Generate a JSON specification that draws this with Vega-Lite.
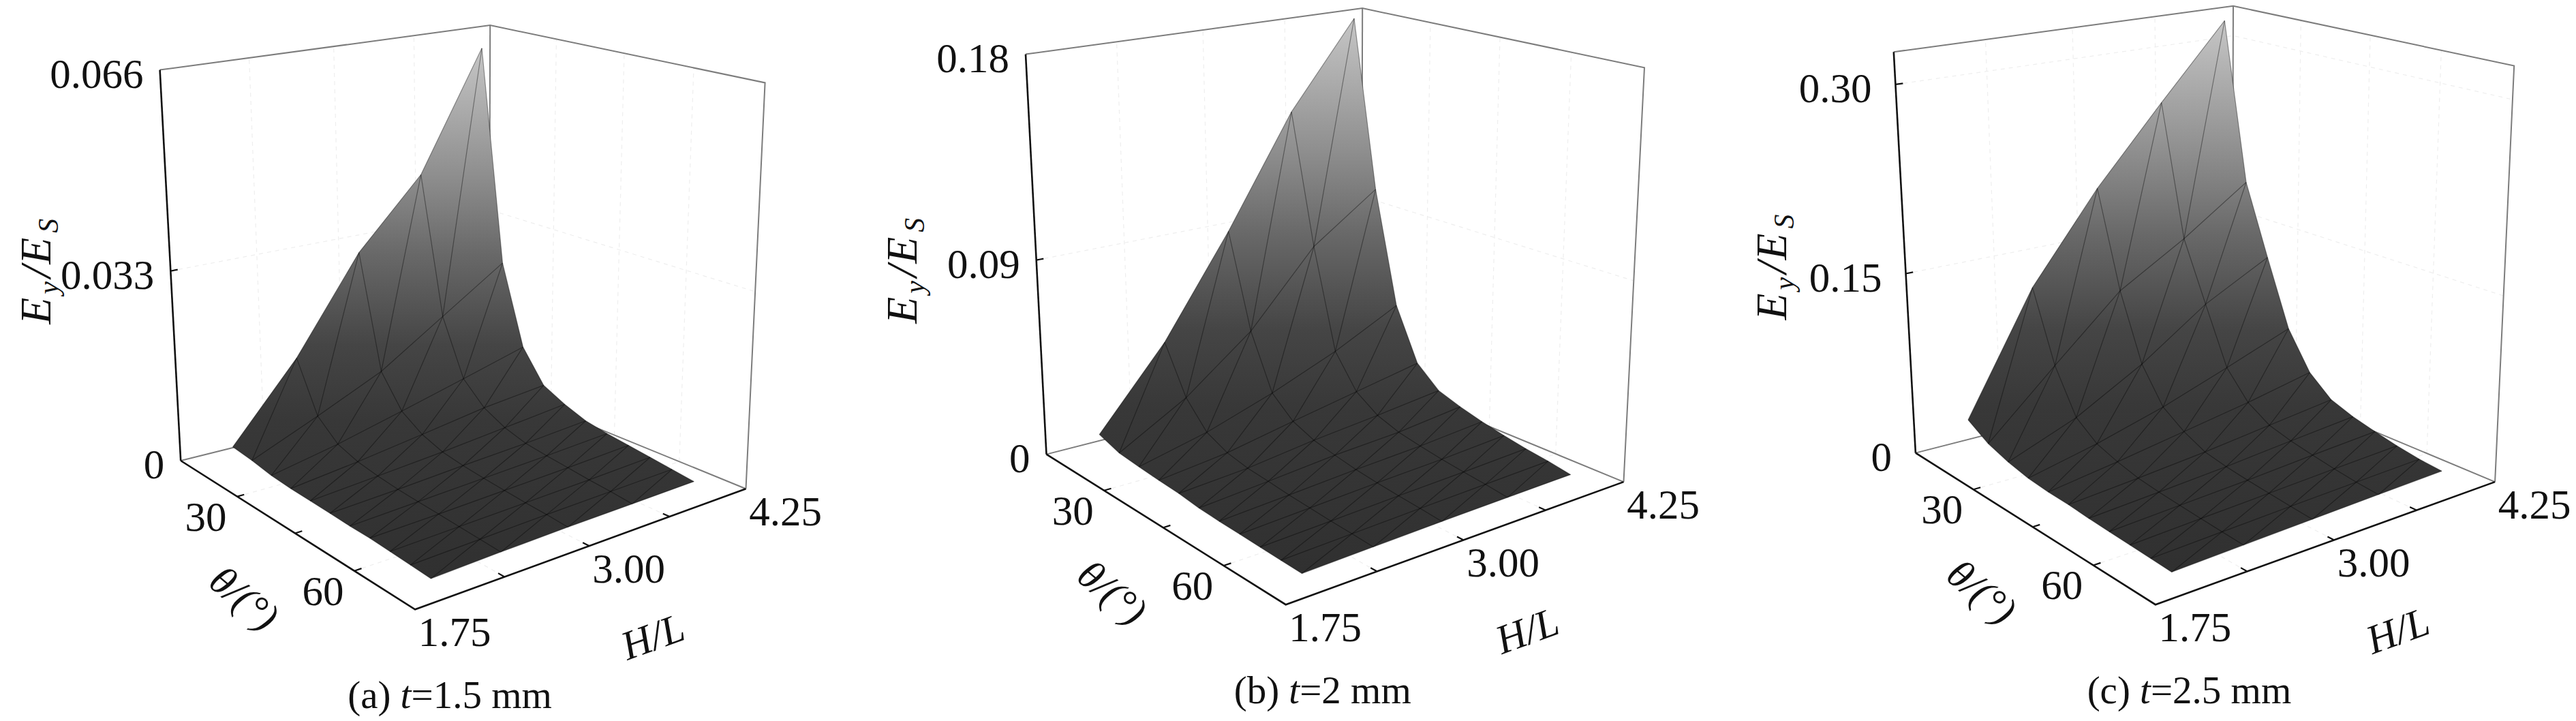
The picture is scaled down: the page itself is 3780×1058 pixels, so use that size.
{"$schema":"https://vega.github.io/schema/vega-lite/v6.json","autosize":{"type":"fit","contains":"padding"},"padding":0,"width":3780,"height":1058,"background":"white","view":{"stroke":null},
"params":[{"name":"cube","value":{"a":{"zmax":0.066,"Lx":265.2,"Ly":676,"Fx":609.1,"Fy":894.3,"Rx":1094.5,"Ry":717.2,"Bx":717.6,"By":563.4,"LTx":234.6,"LTy":102.6,"FTx":610,"FTy":239.5,"RTx":1122.6,"RTy":121.4,"BTx":719.2,"BTy":37.1,"yd":-24,"ytdy":78,"capdx":-21.5},"b":{"zmax":0.18,"Lx":1535.5,"Ly":666.6,"Fx":1886.7,"Fy":887.2,"Rx":2382.5,"Ry":707.1,"Bx":1997.6,"By":548.5,"LTx":1505,"LTy":79.6,"FTx":1890.7,"FTy":219.3,"RTx":2413,"RTy":99.2,"BTx":1999.2,"BTy":12.1,"yd":-24,"ytdy":93,"capdx":4.5},"c":{"zmax":0.325,"Lx":2810.9,"Ly":664.6,"Fx":3162.9,"Fy":887.2,"Rx":3661.1,"Ry":707.1,"Bx":3275.4,"By":545.8,"LTx":2778.8,"LTy":76.2,"FTx":3162.9,"FTy":216.6,"RTx":3689.2,"RTy":96.5,"BTx":3277,"BTy":8.8,"yd":-35,"ytdy":68,"capdx":-23}}}],
"data":{"values":[
{"set":"s","panel":"a","hl":2,"theta":20,"ey":0.003},{"set":"s","panel":"a","hl":2.5,"theta":20,"ey":0.0159},{"set":"s","panel":"a","hl":3,"theta":20,"ey":0.032},{"set":"s","panel":"a","hl":3.5,"theta":20,"ey":0.0435},{"set":"s","panel":"a","hl":4,"theta":20,"ey":0.0636},
{"set":"s","panel":"a","hl":2,"theta":25,"ey":0.0026},{"set":"s","panel":"a","hl":2.5,"theta":25,"ey":0.0074},{"set":"s","panel":"a","hl":3,"theta":25,"ey":0.0125},{"set":"s","panel":"a","hl":3.5,"theta":25,"ey":0.0197},{"set":"s","panel":"a","hl":4,"theta":25,"ey":0.0269},
{"set":"s","panel":"a","hl":2,"theta":30,"ey":0.002},{"set":"s","panel":"a","hl":2.5,"theta":30,"ey":0.0043},{"set":"s","panel":"a","hl":3,"theta":30,"ey":0.0071},{"set":"s","panel":"a","hl":3.5,"theta":30,"ey":0.01},{"set":"s","panel":"a","hl":4,"theta":30,"ey":0.013},
{"set":"s","panel":"a","hl":2,"theta":35,"ey":0.00175},{"set":"s","panel":"a","hl":2.5,"theta":35,"ey":0.0031},{"set":"s","panel":"a","hl":3,"theta":35,"ey":0.0047},{"set":"s","panel":"a","hl":3.5,"theta":35,"ey":0.0064},{"set":"s","panel":"a","hl":4,"theta":35,"ey":0.0075},
{"set":"s","panel":"a","hl":2,"theta":40,"ey":0.00165},{"set":"s","panel":"a","hl":2.5,"theta":40,"ey":0.0025},{"set":"s","panel":"a","hl":3,"theta":40,"ey":0.0034},{"set":"s","panel":"a","hl":3.5,"theta":40,"ey":0.0045},{"set":"s","panel":"a","hl":4,"theta":40,"ey":0.0056},
{"set":"s","panel":"a","hl":2,"theta":45,"ey":0.00155},{"set":"s","panel":"a","hl":2.5,"theta":45,"ey":0.0021},{"set":"s","panel":"a","hl":3,"theta":45,"ey":0.0028},{"set":"s","panel":"a","hl":3.5,"theta":45,"ey":0.0034},{"set":"s","panel":"a","hl":4,"theta":45,"ey":0.0042},
{"set":"s","panel":"a","hl":2,"theta":50,"ey":0.0014},{"set":"s","panel":"a","hl":2.5,"theta":50,"ey":0.0019},{"set":"s","panel":"a","hl":3,"theta":50,"ey":0.0024},{"set":"s","panel":"a","hl":3.5,"theta":50,"ey":0.0029},{"set":"s","panel":"a","hl":4,"theta":50,"ey":0.0035},
{"set":"s","panel":"a","hl":2,"theta":55,"ey":0.0014},{"set":"s","panel":"a","hl":2.5,"theta":55,"ey":0.0017},{"set":"s","panel":"a","hl":3,"theta":55,"ey":0.0021},{"set":"s","panel":"a","hl":3.5,"theta":55,"ey":0.0025},{"set":"s","panel":"a","hl":4,"theta":55,"ey":0.003},
{"set":"s","panel":"a","hl":2,"theta":60,"ey":0.0012},{"set":"s","panel":"a","hl":2.5,"theta":60,"ey":0.0015},{"set":"s","panel":"a","hl":3,"theta":60,"ey":0.0018},{"set":"s","panel":"a","hl":3.5,"theta":60,"ey":0.0021},{"set":"s","panel":"a","hl":4,"theta":60,"ey":0.0025},
{"set":"s","panel":"a","hl":2,"theta":65,"ey":0.001},{"set":"s","panel":"a","hl":2.5,"theta":65,"ey":0.0013},{"set":"s","panel":"a","hl":3,"theta":65,"ey":0.0016},{"set":"s","panel":"a","hl":3.5,"theta":65,"ey":0.0018},{"set":"s","panel":"a","hl":4,"theta":65,"ey":0.002},
{"set":"s","panel":"a","hl":2,"theta":70,"ey":0.0008},{"set":"s","panel":"a","hl":2.5,"theta":70,"ey":0.0011},{"set":"s","panel":"a","hl":3,"theta":70,"ey":0.0013},{"set":"s","panel":"a","hl":3.5,"theta":70,"ey":0.0014},{"set":"s","panel":"a","hl":4,"theta":70,"ey":0.0015},

{"set":"s","panel":"b","hl":2,"theta":20,"ey":0.0107},{"set":"s","panel":"b","hl":2.5,"theta":20,"ey":0.0464},{"set":"s","panel":"b","hl":3,"theta":20,"ey":0.0916},{"set":"s","panel":"b","hl":3.5,"theta":20,"ey":0.1413},{"set":"s","panel":"b","hl":4,"theta":20,"ey":0.1795},
{"set":"s","panel":"b","hl":2,"theta":25,"ey":0.0074},{"set":"s","panel":"b","hl":2.5,"theta":25,"ey":0.025},{"set":"s","panel":"b","hl":3,"theta":25,"ey":0.0488},{"set":"s","panel":"b","hl":3.5,"theta":25,"ey":0.0819},{"set":"s","panel":"b","hl":4,"theta":25,"ey":0.1028},
{"set":"s","panel":"b","hl":2,"theta":30,"ey":0.0064},{"set":"s","panel":"b","hl":2.5,"theta":30,"ey":0.0137},{"set":"s","panel":"b","hl":3,"theta":30,"ey":0.0239},{"set":"s","panel":"b","hl":3.5,"theta":30,"ey":0.0359},{"set":"s","panel":"b","hl":4,"theta":30,"ey":0.0506},
{"set":"s","panel":"b","hl":2,"theta":35,"ey":0.0056},{"set":"s","panel":"b","hl":2.5,"theta":35,"ey":0.0092},{"set":"s","panel":"b","hl":3,"theta":35,"ey":0.0152},{"set":"s","panel":"b","hl":3.5,"theta":35,"ey":0.0209},{"set":"s","panel":"b","hl":4,"theta":35,"ey":0.0266},
{"set":"s","panel":"b","hl":2,"theta":40,"ey":0.005},{"set":"s","panel":"b","hl":2.5,"theta":40,"ey":0.0072},{"set":"s","panel":"b","hl":3,"theta":40,"ey":0.0111},{"set":"s","panel":"b","hl":3.5,"theta":40,"ey":0.0141},{"set":"s","panel":"b","hl":4,"theta":40,"ey":0.0175},
{"set":"s","panel":"b","hl":2,"theta":45,"ey":0.0038},{"set":"s","panel":"b","hl":2.5,"theta":45,"ey":0.0063},{"set":"s","panel":"b","hl":3,"theta":45,"ey":0.009},{"set":"s","panel":"b","hl":3.5,"theta":45,"ey":0.0107},{"set":"s","panel":"b","hl":4,"theta":45,"ey":0.014},
{"set":"s","panel":"b","hl":2,"theta":50,"ey":0.0033},{"set":"s","panel":"b","hl":2.5,"theta":50,"ey":0.0052},{"set":"s","panel":"b","hl":3,"theta":50,"ey":0.0072},{"set":"s","panel":"b","hl":3.5,"theta":50,"ey":0.0088},{"set":"s","panel":"b","hl":4,"theta":50,"ey":0.0112},
{"set":"s","panel":"b","hl":2,"theta":55,"ey":0.003},{"set":"s","panel":"b","hl":2.5,"theta":55,"ey":0.0045},{"set":"s","panel":"b","hl":3,"theta":55,"ey":0.006},{"set":"s","panel":"b","hl":3.5,"theta":55,"ey":0.0072},{"set":"s","panel":"b","hl":4,"theta":55,"ey":0.009},
{"set":"s","panel":"b","hl":2,"theta":60,"ey":0.0027},{"set":"s","panel":"b","hl":2.5,"theta":60,"ey":0.0038},{"set":"s","panel":"b","hl":3,"theta":60,"ey":0.005},{"set":"s","panel":"b","hl":3.5,"theta":60,"ey":0.006},{"set":"s","panel":"b","hl":4,"theta":60,"ey":0.0072},
{"set":"s","panel":"b","hl":2,"theta":65,"ey":0.0024},{"set":"s","panel":"b","hl":2.5,"theta":65,"ey":0.0033},{"set":"s","panel":"b","hl":3,"theta":65,"ey":0.0042},{"set":"s","panel":"b","hl":3.5,"theta":65,"ey":0.005},{"set":"s","panel":"b","hl":4,"theta":65,"ey":0.0058},
{"set":"s","panel":"b","hl":2,"theta":70,"ey":0.0021},{"set":"s","panel":"b","hl":2.5,"theta":70,"ey":0.0027},{"set":"s","panel":"b","hl":3,"theta":70,"ey":0.0033},{"set":"s","panel":"b","hl":3.5,"theta":70,"ey":0.0037},{"set":"s","panel":"b","hl":4,"theta":70,"ey":0.004},

{"set":"s","panel":"c","hl":2,"theta":20,"ey":0.0306},{"set":"s","panel":"c","hl":2.5,"theta":20,"ey":0.1285},{"set":"s","panel":"c","hl":3,"theta":20,"ey":0.1997},{"set":"s","panel":"c","hl":3.5,"theta":20,"ey":0.2611},{"set":"s","panel":"c","hl":4,"theta":20,"ey":0.3205},
{"set":"s","panel":"c","hl":2,"theta":25,"ey":0.0202},{"set":"s","panel":"c","hl":2.5,"theta":25,"ey":0.0712},{"set":"s","panel":"c","hl":3,"theta":25,"ey":0.121},{"set":"s","panel":"c","hl":3.5,"theta":25,"ey":0.153},{"set":"s","panel":"c","hl":4,"theta":25,"ey":0.19},
{"set":"s","panel":"c","hl":2,"theta":30,"ey":0.0146},{"set":"s","panel":"c","hl":2.5,"theta":30,"ey":0.0362},{"set":"s","panel":"c","hl":3,"theta":30,"ey":0.0667},{"set":"s","panel":"c","hl":3.5,"theta":30,"ey":0.1042},{"set":"s","panel":"c","hl":4,"theta":30,"ey":0.1318},
{"set":"s","panel":"c","hl":2,"theta":35,"ey":0.011},{"set":"s","panel":"c","hl":2.5,"theta":35,"ey":0.0233},{"set":"s","panel":"c","hl":3,"theta":35,"ey":0.0387},{"set":"s","panel":"c","hl":3.5,"theta":35,"ey":0.0574},{"set":"s","panel":"c","hl":4,"theta":35,"ey":0.077},
{"set":"s","panel":"c","hl":2,"theta":40,"ey":0.0095},{"set":"s","panel":"c","hl":2.5,"theta":40,"ey":0.0175},{"set":"s","panel":"c","hl":3,"theta":40,"ey":0.0265},{"set":"s","panel":"c","hl":3.5,"theta":40,"ey":0.0356},{"set":"s","panel":"c","hl":4,"theta":40,"ey":0.0464},
{"set":"s","panel":"c","hl":2,"theta":45,"ey":0.009},{"set":"s","panel":"c","hl":2.5,"theta":45,"ey":0.0133},{"set":"s","panel":"c","hl":3,"theta":45,"ey":0.0182},{"set":"s","panel":"c","hl":3.5,"theta":45,"ey":0.0244},{"set":"s","panel":"c","hl":4,"theta":45,"ey":0.0305},
{"set":"s","panel":"c","hl":2,"theta":50,"ey":0.0078},{"set":"s","panel":"c","hl":2.5,"theta":50,"ey":0.0112},{"set":"s","panel":"c","hl":3,"theta":50,"ey":0.0148},{"set":"s","panel":"c","hl":3.5,"theta":50,"ey":0.0195},{"set":"s","panel":"c","hl":4,"theta":50,"ey":0.0238},
{"set":"s","panel":"c","hl":2,"theta":55,"ey":0.007},{"set":"s","panel":"c","hl":2.5,"theta":55,"ey":0.0098},{"set":"s","panel":"c","hl":3,"theta":55,"ey":0.0125},{"set":"s","panel":"c","hl":3.5,"theta":55,"ey":0.016},{"set":"s","panel":"c","hl":4,"theta":55,"ey":0.019},
{"set":"s","panel":"c","hl":2,"theta":60,"ey":0.0062},{"set":"s","panel":"c","hl":2.5,"theta":60,"ey":0.0085},{"set":"s","panel":"c","hl":3,"theta":60,"ey":0.0107},{"set":"s","panel":"c","hl":3.5,"theta":60,"ey":0.013},{"set":"s","panel":"c","hl":4,"theta":60,"ey":0.015},
{"set":"s","panel":"c","hl":2,"theta":65,"ey":0.0055},{"set":"s","panel":"c","hl":2.5,"theta":65,"ey":0.0073},{"set":"s","panel":"c","hl":3,"theta":65,"ey":0.009},{"set":"s","panel":"c","hl":3.5,"theta":65,"ey":0.0105},{"set":"s","panel":"c","hl":4,"theta":65,"ey":0.0118},
{"set":"s","panel":"c","hl":2,"theta":70,"ey":0.0048},{"set":"s","panel":"c","hl":2.5,"theta":70,"ey":0.0062},{"set":"s","panel":"c","hl":3,"theta":70,"ey":0.0075},{"set":"s","panel":"c","hl":3.5,"theta":70,"ey":0.0088},{"set":"s","panel":"c","hl":4,"theta":70,"ey":0.01},

{"set":"box","panel":"a","id":"b1","hl":1.75,"theta":15,"ey":0.066},{"set":"box","panel":"a","id":"b1","hl":4.25,"theta":15,"ey":0.066},{"set":"box","panel":"a","id":"b1","hl":4.25,"theta":75,"ey":0.066},{"set":"box","panel":"a","id":"b1","hl":4.25,"theta":75,"ey":0},
{"set":"box","panel":"a","id":"b2","hl":4.25,"theta":15,"ey":0},{"set":"box","panel":"a","id":"b2","hl":4.25,"theta":15,"ey":0.066},
{"set":"box","panel":"a","id":"b3","hl":1.75,"theta":15,"ey":0},{"set":"box","panel":"a","id":"b3","hl":4.25,"theta":15,"ey":0},{"set":"box","panel":"a","id":"b3","hl":4.25,"theta":75,"ey":0},
{"set":"box","panel":"b","id":"b1","hl":1.75,"theta":15,"ey":0.18},{"set":"box","panel":"b","id":"b1","hl":4.25,"theta":15,"ey":0.18},{"set":"box","panel":"b","id":"b1","hl":4.25,"theta":75,"ey":0.18},{"set":"box","panel":"b","id":"b1","hl":4.25,"theta":75,"ey":0},
{"set":"box","panel":"b","id":"b2","hl":4.25,"theta":15,"ey":0},{"set":"box","panel":"b","id":"b2","hl":4.25,"theta":15,"ey":0.18},
{"set":"box","panel":"b","id":"b3","hl":1.75,"theta":15,"ey":0},{"set":"box","panel":"b","id":"b3","hl":4.25,"theta":15,"ey":0},{"set":"box","panel":"b","id":"b3","hl":4.25,"theta":75,"ey":0},
{"set":"box","panel":"c","id":"b1","hl":1.75,"theta":15,"ey":0.325},{"set":"box","panel":"c","id":"b1","hl":4.25,"theta":15,"ey":0.325},{"set":"box","panel":"c","id":"b1","hl":4.25,"theta":75,"ey":0.325},{"set":"box","panel":"c","id":"b1","hl":4.25,"theta":75,"ey":0},
{"set":"box","panel":"c","id":"b2","hl":4.25,"theta":15,"ey":0},{"set":"box","panel":"c","id":"b2","hl":4.25,"theta":15,"ey":0.325},
{"set":"box","panel":"c","id":"b3","hl":1.75,"theta":15,"ey":0},{"set":"box","panel":"c","id":"b3","hl":4.25,"theta":15,"ey":0},{"set":"box","panel":"c","id":"b3","hl":4.25,"theta":75,"ey":0},

{"set":"edge","panel":"a","id":"e1","hl":1.75,"theta":15,"ey":0},{"set":"edge","panel":"a","id":"e1","hl":1.75,"theta":15,"ey":0.066},
{"set":"edge","panel":"a","id":"e2","hl":1.75,"theta":15,"ey":0},{"set":"edge","panel":"a","id":"e2","hl":1.75,"theta":75,"ey":0},{"set":"edge","panel":"a","id":"e2","hl":4.25,"theta":75,"ey":0},
{"set":"edge","panel":"b","id":"e1","hl":1.75,"theta":15,"ey":0},{"set":"edge","panel":"b","id":"e1","hl":1.75,"theta":15,"ey":0.18},
{"set":"edge","panel":"b","id":"e2","hl":1.75,"theta":15,"ey":0},{"set":"edge","panel":"b","id":"e2","hl":1.75,"theta":75,"ey":0},{"set":"edge","panel":"b","id":"e2","hl":4.25,"theta":75,"ey":0},
{"set":"edge","panel":"c","id":"e1","hl":1.75,"theta":15,"ey":0},{"set":"edge","panel":"c","id":"e1","hl":1.75,"theta":15,"ey":0.325},
{"set":"edge","panel":"c","id":"e2","hl":1.75,"theta":15,"ey":0},{"set":"edge","panel":"c","id":"e2","hl":1.75,"theta":75,"ey":0},{"set":"edge","panel":"c","id":"e2","hl":4.25,"theta":75,"ey":0},

{"set":"grid","panel":"a","id":"gy","hl":1.75,"theta":15,"ey":0.033},{"set":"grid","panel":"a","id":"gy","hl":4.25,"theta":15,"ey":0.033},{"set":"grid","panel":"a","id":"gy","hl":4.25,"theta":75,"ey":0.033},
{"set":"grid","panel":"a","id":"w1","hl":2.375,"theta":15,"ey":0},{"set":"grid","panel":"a","id":"w1","hl":2.375,"theta":15,"ey":0.066},{"set":"grid","panel":"a","id":"w2","hl":3,"theta":15,"ey":0},{"set":"grid","panel":"a","id":"w2","hl":3,"theta":15,"ey":0.066},{"set":"grid","panel":"a","id":"w3","hl":3.625,"theta":15,"ey":0},{"set":"grid","panel":"a","id":"w3","hl":3.625,"theta":15,"ey":0.066},
{"set":"grid","panel":"a","id":"w4","hl":4.25,"theta":30,"ey":0},{"set":"grid","panel":"a","id":"w4","hl":4.25,"theta":30,"ey":0.066},{"set":"grid","panel":"a","id":"w5","hl":4.25,"theta":45,"ey":0},{"set":"grid","panel":"a","id":"w5","hl":4.25,"theta":45,"ey":0.066},{"set":"grid","panel":"a","id":"w6","hl":4.25,"theta":60,"ey":0},{"set":"grid","panel":"a","id":"w6","hl":4.25,"theta":60,"ey":0.066},
{"set":"grid","panel":"a","id":"f1","hl":1.75,"theta":30,"ey":0},{"set":"grid","panel":"a","id":"f1","hl":4.25,"theta":30,"ey":0},{"set":"grid","panel":"a","id":"f2","hl":1.75,"theta":60,"ey":0},{"set":"grid","panel":"a","id":"f2","hl":4.25,"theta":60,"ey":0},
{"set":"grid","panel":"a","id":"f3","hl":2.375,"theta":15,"ey":0},{"set":"grid","panel":"a","id":"f3","hl":2.375,"theta":75,"ey":0},{"set":"grid","panel":"a","id":"f4","hl":3,"theta":15,"ey":0},{"set":"grid","panel":"a","id":"f4","hl":3,"theta":75,"ey":0},{"set":"grid","panel":"a","id":"f5","hl":3.625,"theta":15,"ey":0},{"set":"grid","panel":"a","id":"f5","hl":3.625,"theta":75,"ey":0},

{"set":"grid","panel":"b","id":"gy","hl":1.75,"theta":15,"ey":0.09},{"set":"grid","panel":"b","id":"gy","hl":4.25,"theta":15,"ey":0.09},{"set":"grid","panel":"b","id":"gy","hl":4.25,"theta":75,"ey":0.09},
{"set":"grid","panel":"b","id":"w1","hl":2.375,"theta":15,"ey":0},{"set":"grid","panel":"b","id":"w1","hl":2.375,"theta":15,"ey":0.18},{"set":"grid","panel":"b","id":"w2","hl":3,"theta":15,"ey":0},{"set":"grid","panel":"b","id":"w2","hl":3,"theta":15,"ey":0.18},{"set":"grid","panel":"b","id":"w3","hl":3.625,"theta":15,"ey":0},{"set":"grid","panel":"b","id":"w3","hl":3.625,"theta":15,"ey":0.18},
{"set":"grid","panel":"b","id":"w4","hl":4.25,"theta":30,"ey":0},{"set":"grid","panel":"b","id":"w4","hl":4.25,"theta":30,"ey":0.18},{"set":"grid","panel":"b","id":"w5","hl":4.25,"theta":45,"ey":0},{"set":"grid","panel":"b","id":"w5","hl":4.25,"theta":45,"ey":0.18},{"set":"grid","panel":"b","id":"w6","hl":4.25,"theta":60,"ey":0},{"set":"grid","panel":"b","id":"w6","hl":4.25,"theta":60,"ey":0.18},
{"set":"grid","panel":"b","id":"f1","hl":1.75,"theta":30,"ey":0},{"set":"grid","panel":"b","id":"f1","hl":4.25,"theta":30,"ey":0},{"set":"grid","panel":"b","id":"f2","hl":1.75,"theta":60,"ey":0},{"set":"grid","panel":"b","id":"f2","hl":4.25,"theta":60,"ey":0},
{"set":"grid","panel":"b","id":"f3","hl":2.375,"theta":15,"ey":0},{"set":"grid","panel":"b","id":"f3","hl":2.375,"theta":75,"ey":0},{"set":"grid","panel":"b","id":"f4","hl":3,"theta":15,"ey":0},{"set":"grid","panel":"b","id":"f4","hl":3,"theta":75,"ey":0},{"set":"grid","panel":"b","id":"f5","hl":3.625,"theta":15,"ey":0},{"set":"grid","panel":"b","id":"f5","hl":3.625,"theta":75,"ey":0},

{"set":"grid","panel":"c","id":"gy","hl":1.75,"theta":15,"ey":0.15},{"set":"grid","panel":"c","id":"gy","hl":4.25,"theta":15,"ey":0.15},{"set":"grid","panel":"c","id":"gy","hl":4.25,"theta":75,"ey":0.15},
{"set":"grid","panel":"c","id":"gz","hl":1.75,"theta":15,"ey":0.3},{"set":"grid","panel":"c","id":"gz","hl":4.25,"theta":15,"ey":0.3},{"set":"grid","panel":"c","id":"gz","hl":4.25,"theta":75,"ey":0.3},
{"set":"grid","panel":"c","id":"w1","hl":2.375,"theta":15,"ey":0},{"set":"grid","panel":"c","id":"w1","hl":2.375,"theta":15,"ey":0.325},{"set":"grid","panel":"c","id":"w2","hl":3,"theta":15,"ey":0},{"set":"grid","panel":"c","id":"w2","hl":3,"theta":15,"ey":0.325},{"set":"grid","panel":"c","id":"w3","hl":3.625,"theta":15,"ey":0},{"set":"grid","panel":"c","id":"w3","hl":3.625,"theta":15,"ey":0.325},
{"set":"grid","panel":"c","id":"w4","hl":4.25,"theta":30,"ey":0},{"set":"grid","panel":"c","id":"w4","hl":4.25,"theta":30,"ey":0.325},{"set":"grid","panel":"c","id":"w5","hl":4.25,"theta":45,"ey":0},{"set":"grid","panel":"c","id":"w5","hl":4.25,"theta":45,"ey":0.325},{"set":"grid","panel":"c","id":"w6","hl":4.25,"theta":60,"ey":0},{"set":"grid","panel":"c","id":"w6","hl":4.25,"theta":60,"ey":0.325},
{"set":"grid","panel":"c","id":"f1","hl":1.75,"theta":30,"ey":0},{"set":"grid","panel":"c","id":"f1","hl":4.25,"theta":30,"ey":0},{"set":"grid","panel":"c","id":"f2","hl":1.75,"theta":60,"ey":0},{"set":"grid","panel":"c","id":"f2","hl":4.25,"theta":60,"ey":0},
{"set":"grid","panel":"c","id":"f3","hl":2.375,"theta":15,"ey":0},{"set":"grid","panel":"c","id":"f3","hl":2.375,"theta":75,"ey":0},{"set":"grid","panel":"c","id":"f4","hl":3,"theta":15,"ey":0},{"set":"grid","panel":"c","id":"f4","hl":3,"theta":75,"ey":0},{"set":"grid","panel":"c","id":"f5","hl":3.625,"theta":15,"ey":0},{"set":"grid","panel":"c","id":"f5","hl":3.625,"theta":75,"ey":0},

{"set":"tick","panel":"a","id":"t1","hl":1.75,"theta":30,"ey":0},{"set":"tick","panel":"a","id":"t1","hl":1.8,"theta":30,"ey":0},{"set":"tick","panel":"a","id":"t2","hl":1.75,"theta":45,"ey":0},{"set":"tick","panel":"a","id":"t2","hl":1.8,"theta":45,"ey":0},{"set":"tick","panel":"a","id":"t3","hl":1.75,"theta":60,"ey":0},{"set":"tick","panel":"a","id":"t3","hl":1.8,"theta":60,"ey":0},
{"set":"tick","panel":"a","id":"t4","hl":2.375,"theta":75,"ey":0},{"set":"tick","panel":"a","id":"t4","hl":2.375,"theta":73.5,"ey":0},{"set":"tick","panel":"a","id":"t5","hl":3,"theta":75,"ey":0},{"set":"tick","panel":"a","id":"t5","hl":3,"theta":73.5,"ey":0},{"set":"tick","panel":"a","id":"t6","hl":3.625,"theta":75,"ey":0},{"set":"tick","panel":"a","id":"t6","hl":3.625,"theta":73.5,"ey":0},
{"set":"tick","panel":"a","id":"t7","hl":1.75,"theta":15,"ey":0.033},{"set":"tick","panel":"a","id":"t7","hl":1.8,"theta":15,"ey":0.033},
{"set":"tick","panel":"b","id":"t1","hl":1.75,"theta":30,"ey":0},{"set":"tick","panel":"b","id":"t1","hl":1.8,"theta":30,"ey":0},{"set":"tick","panel":"b","id":"t2","hl":1.75,"theta":45,"ey":0},{"set":"tick","panel":"b","id":"t2","hl":1.8,"theta":45,"ey":0},{"set":"tick","panel":"b","id":"t3","hl":1.75,"theta":60,"ey":0},{"set":"tick","panel":"b","id":"t3","hl":1.8,"theta":60,"ey":0},
{"set":"tick","panel":"b","id":"t4","hl":2.375,"theta":75,"ey":0},{"set":"tick","panel":"b","id":"t4","hl":2.375,"theta":73.5,"ey":0},{"set":"tick","panel":"b","id":"t5","hl":3,"theta":75,"ey":0},{"set":"tick","panel":"b","id":"t5","hl":3,"theta":73.5,"ey":0},{"set":"tick","panel":"b","id":"t6","hl":3.625,"theta":75,"ey":0},{"set":"tick","panel":"b","id":"t6","hl":3.625,"theta":73.5,"ey":0},
{"set":"tick","panel":"b","id":"t7","hl":1.75,"theta":15,"ey":0.09},{"set":"tick","panel":"b","id":"t7","hl":1.8,"theta":15,"ey":0.09},
{"set":"tick","panel":"c","id":"t1","hl":1.75,"theta":30,"ey":0},{"set":"tick","panel":"c","id":"t1","hl":1.8,"theta":30,"ey":0},{"set":"tick","panel":"c","id":"t2","hl":1.75,"theta":45,"ey":0},{"set":"tick","panel":"c","id":"t2","hl":1.8,"theta":45,"ey":0},{"set":"tick","panel":"c","id":"t3","hl":1.75,"theta":60,"ey":0},{"set":"tick","panel":"c","id":"t3","hl":1.8,"theta":60,"ey":0},
{"set":"tick","panel":"c","id":"t4","hl":2.375,"theta":75,"ey":0},{"set":"tick","panel":"c","id":"t4","hl":2.375,"theta":73.5,"ey":0},{"set":"tick","panel":"c","id":"t5","hl":3,"theta":75,"ey":0},{"set":"tick","panel":"c","id":"t5","hl":3,"theta":73.5,"ey":0},{"set":"tick","panel":"c","id":"t6","hl":3.625,"theta":75,"ey":0},{"set":"tick","panel":"c","id":"t6","hl":3.625,"theta":73.5,"ey":0},
{"set":"tick","panel":"c","id":"t7","hl":1.75,"theta":15,"ey":0.15},{"set":"tick","panel":"c","id":"t7","hl":1.8,"theta":15,"ey":0.15},{"set":"tick","panel":"c","id":"t8","hl":1.75,"theta":15,"ey":0.3},{"set":"tick","panel":"c","id":"t8","hl":1.8,"theta":15,"ey":0.3},

{"set":"yl","panel":"a","hl":1.75,"theta":15,"ey":0.066,"label":"0.066"},{"set":"yl","panel":"a","hl":1.75,"theta":15,"ey":0.033,"label":"0.033"},{"set":"yl","panel":"a","hl":1.75,"theta":15,"ey":0,"label":"0"},
{"set":"yl","panel":"b","hl":1.75,"theta":15,"ey":0.18,"label":"0.18"},{"set":"yl","panel":"b","hl":1.75,"theta":15,"ey":0.09,"label":"0.09"},{"set":"yl","panel":"b","hl":1.75,"theta":15,"ey":0,"label":"0"},
{"set":"yl","panel":"c","hl":1.75,"theta":15,"ey":0.3,"label":"0.30"},{"set":"yl","panel":"c","hl":1.75,"theta":15,"ey":0.15,"label":"0.15"},{"set":"yl","panel":"c","hl":1.75,"theta":15,"ey":0,"label":"0"},
{"set":"tl","panel":"a","hl":1.75,"theta":30,"ey":0,"label":"30"},{"set":"tl","panel":"a","hl":1.75,"theta":60,"ey":0,"label":"60"},{"set":"tl","panel":"b","hl":1.75,"theta":30,"ey":0,"label":"30"},{"set":"tl","panel":"b","hl":1.75,"theta":60,"ey":0,"label":"60"},{"set":"tl","panel":"c","hl":1.75,"theta":30,"ey":0,"label":"30"},{"set":"tl","panel":"c","hl":1.75,"theta":60,"ey":0,"label":"60"},
{"set":"xl","panel":"a","hl":1.75,"theta":75,"ey":0,"label":"1.75"},{"set":"xl","panel":"a","hl":3,"theta":75,"ey":0,"label":"3.00"},{"set":"xl","panel":"a","hl":4.25,"theta":75,"ey":0,"label":"4.25"},
{"set":"xl","panel":"b","hl":1.75,"theta":75,"ey":0,"label":"1.75"},{"set":"xl","panel":"b","hl":3,"theta":75,"ey":0,"label":"3.00"},{"set":"xl","panel":"b","hl":4.25,"theta":75,"ey":0,"label":"4.25"},
{"set":"xl","panel":"c","hl":1.75,"theta":75,"ey":0,"label":"1.75"},{"set":"xl","panel":"c","hl":3,"theta":75,"ey":0,"label":"3.00"},{"set":"xl","panel":"c","hl":4.25,"theta":75,"ey":0,"label":"4.25"},
{"set":"tt","panel":"a","hl":1.75,"theta":45,"ey":0,"label":"θ/(°)"},{"set":"tt","panel":"b","hl":1.75,"theta":45,"ey":0,"label":"θ/(°)"},{"set":"tt","panel":"c","hl":1.75,"theta":45,"ey":0,"label":"θ/(°)"},
{"set":"xt","panel":"a","hl":3,"theta":75,"ey":0,"label":"H/L"},{"set":"xt","panel":"b","hl":3,"theta":75,"ey":0,"label":"H/L"},{"set":"xt","panel":"c","hl":3,"theta":75,"ey":0,"label":"H/L"},
{"set":"yb","panel":"a","hl":1.75,"theta":15,"ey":0.033,"label":"E","part":0},{"set":"yb","panel":"a","hl":1.75,"theta":15,"ey":0.033,"label":"/","part":2},{"set":"yb","panel":"a","hl":1.75,"theta":15,"ey":0.033,"label":"E","part":3},{"set":"ys","panel":"a","hl":1.75,"theta":15,"ey":0.033,"label":"y","part":1},{"set":"ys","panel":"a","hl":1.75,"theta":15,"ey":0.033,"label":"S","part":4},
{"set":"yb","panel":"b","hl":1.75,"theta":15,"ey":0.09,"label":"E","part":0},{"set":"yb","panel":"b","hl":1.75,"theta":15,"ey":0.09,"label":"/","part":2},{"set":"yb","panel":"b","hl":1.75,"theta":15,"ey":0.09,"label":"E","part":3},{"set":"ys","panel":"b","hl":1.75,"theta":15,"ey":0.09,"label":"y","part":1},{"set":"ys","panel":"b","hl":1.75,"theta":15,"ey":0.09,"label":"S","part":4},
{"set":"yb","panel":"c","hl":1.75,"theta":15,"ey":0.15,"label":"E","part":0},{"set":"yb","panel":"c","hl":1.75,"theta":15,"ey":0.15,"label":"/","part":2},{"set":"yb","panel":"c","hl":1.75,"theta":15,"ey":0.15,"label":"E","part":3},{"set":"ys","panel":"c","hl":1.75,"theta":15,"ey":0.15,"label":"y","part":1},{"set":"ys","panel":"c","hl":1.75,"theta":15,"ey":0.15,"label":"S","part":4},
{"set":"c1","panel":"a","hl":1.75,"theta":75,"ey":0,"label":"(a)"},{"set":"c2","panel":"a","hl":1.75,"theta":75,"ey":0,"label":"t"},{"set":"c3","panel":"a","hl":1.75,"theta":75,"ey":0,"label":"=1.5 mm"},
{"set":"c1","panel":"b","hl":1.75,"theta":75,"ey":0,"label":"(b)"},{"set":"c2","panel":"b","hl":1.75,"theta":75,"ey":0,"label":"t"},{"set":"c3","panel":"b","hl":1.75,"theta":75,"ey":0,"label":"=2 mm"},
{"set":"c1","panel":"c","hl":1.75,"theta":75,"ey":0,"label":"(c)"},{"set":"c2","panel":"c","hl":1.75,"theta":75,"ey":0,"label":"t"},{"set":"c3","panel":"c","hl":1.75,"theta":75,"ey":0,"label":"=2.5 mm"}
]},
"transform":[
{"calculate":"cube[datum.panel]","as":"c"},
{"calculate":"(datum.hl-1.75)/2.5","as":"u0"},
{"calculate":"datum.u0/(0.9+0.1*datum.u0)","as":"u"},
{"calculate":"(datum.theta-15)/60","as":"v0"},
{"calculate":"datum.v0/(1.05-0.05*datum.v0)","as":"v"},
{"calculate":"datum.ey/datum.c.zmax","as":"w0"},
{"calculate":"datum.w0/(1.06-0.06*datum.w0)","as":"w"},
{"calculate":"(1-datum.u)*(1-datum.v)","as":"a1"},
{"calculate":"(1-datum.u)*datum.v","as":"a2"},
{"calculate":"datum.u*datum.v","as":"a3"},
{"calculate":"datum.u*(1-datum.v)","as":"a4"},
{"calculate":"(1-datum.w)*(datum.a1*datum.c.Lx+datum.a2*datum.c.Fx+datum.a3*datum.c.Rx+datum.a4*datum.c.Bx)+datum.w*(datum.a1*datum.c.LTx+datum.a2*datum.c.FTx+datum.a3*datum.c.RTx+datum.a4*datum.c.BTx)","as":"sx"},
{"calculate":"(1-datum.w)*(datum.a1*datum.c.Ly+datum.a2*datum.c.Fy+datum.a3*datum.c.Ry+datum.a4*datum.c.By)+datum.w*(datum.a1*datum.c.LTy+datum.a2*datum.c.FTy+datum.a3*datum.c.RTy+datum.a4*datum.c.BTy)","as":"sy"},
{"calculate":"(datum.hl-2)/0.5","as":"i"},
{"calculate":"(datum.theta-20)/5","as":"j"}
],
"encoding":{
"x":{"field":"sx","type":"quantitative","scale":{"domain":[0,3780],"nice":false,"zero":false},"axis":null},
"y":{"field":"sy","type":"quantitative","scale":{"domain":[0,1058],"reverse":true,"nice":false,"zero":false},"axis":null}
},
"layer":[
{"transform":[{"filter":"datum.set=='grid'"},{"calculate":"datum.panel+datum.id","as":"g"}],"mark":{"type":"line","stroke":"#eeeeee","strokeWidth":1.2,"strokeDash":[6,6]},"encoding":{"detail":{"field":"g"},"order":{"value":null}}},
{"transform":[{"filter":"datum.set=='box'"},{"calculate":"datum.panel+datum.id","as":"g"}],"mark":{"type":"line","stroke":"#7c7c7c","strokeWidth":2},"encoding":{"detail":{"field":"g"},"order":{"value":null}}},
{"transform":[{"filter":"datum.set=='s' && (datum.i==0||datum.i==4||datum.j==0||datum.j==10)"},{"calculate":"datum.j==0?datum.i:(datum.i==4?4+datum.j:(datum.j==10?14+(4-datum.i):18+(10-datum.j)))","as":"k"}],"mark":{"type":"line","strokeWidth":0,"fill":{"gradient":"linear","x1":0,"y1":0,"x2":0,"y2":1,"stops":[{"offset":0,"color":"#c6c6c6"},{"offset":0.24,"color":"#8e8e8e"},{"offset":0.39,"color":"#686868"},{"offset":0.56,"color":"#454545"},{"offset":0.7,"color":"#383838"},{"offset":1,"color":"#303030"}]}},"encoding":{"detail":{"field":"panel"},"order":{"field":"k","type":"quantitative"}}},
{"transform":[{"filter":"datum.set=='s'"},{"calculate":"datum.panel+datum.theta","as":"g"}],"mark":{"type":"line","stroke":"#000000","strokeWidth":1.2,"opacity":0.38},"encoding":{"detail":{"field":"g"},"order":{"value":null}}},
{"transform":[{"filter":"datum.set=='s'"},{"calculate":"datum.panel+datum.hl","as":"g"}],"mark":{"type":"line","stroke":"#000000","strokeWidth":1.2,"opacity":0.38},"encoding":{"detail":{"field":"g"},"order":{"value":null}}},
{"transform":[{"filter":"datum.set=='s'"},{"calculate":"datum.panel+(datum.i+datum.j)","as":"g"}],"mark":{"type":"line","stroke":"#000000","strokeWidth":1.2,"opacity":0.38},"encoding":{"detail":{"field":"g"},"order":{"value":null}}},
{"transform":[{"filter":"datum.set=='edge'"},{"calculate":"datum.panel+datum.id","as":"g"}],"mark":{"type":"line","stroke":"#111111","strokeWidth":2.6},"encoding":{"detail":{"field":"g"},"order":{"value":null}}},
{"transform":[{"filter":"datum.set=='tick'"},{"calculate":"datum.panel+datum.id","as":"g"}],"mark":{"type":"line","stroke":"#111111","strokeWidth":2.2},"encoding":{"detail":{"field":"g"},"order":{"value":null}}},
{"transform":[{"filter":"datum.set=='yl'"},{"calculate":"datum.sx+datum.c.yd","as":"tx"}],"mark":{"type":"text","font":"Liberation Serif","fontSize":61,"align":"right","baseline":"middle","dy":8,"fill":"#111111"},"encoding":{"x":{"field":"tx","type":"quantitative"},"text":{"field":"label"}}},
{"transform":[{"filter":"datum.set=='tl'"}],"mark":{"type":"text","font":"Liberation Serif","fontSize":61,"align":"center","baseline":"middle","dx":-46,"dy":32,"fill":"#111111"},"encoding":{"text":{"field":"label"}}},
{"transform":[{"filter":"datum.set=='xl'"}],"mark":{"type":"text","font":"Liberation Serif","fontSize":61,"align":"center","baseline":"middle","dx":58,"dy":36,"fill":"#111111"},"encoding":{"text":{"field":"label"}}},
{"transform":[{"filter":"datum.set=='tt'"},{"calculate":"datum.sx-76","as":"tx"},{"calculate":"datum.sy+97","as":"ty"}],"mark":{"type":"text","font":"Liberation Serif","fontStyle":"italic","fontSize":60,"align":"center","baseline":"middle","angle":40,"fill":"#111111"},"encoding":{"x":{"field":"tx","type":"quantitative"},"y":{"field":"ty","type":"quantitative"},"text":{"field":"label"}}},
{"transform":[{"filter":"datum.set=='xt'"},{"calculate":"datum.sx+94","as":"tx"},{"calculate":"datum.sy+135","as":"ty"}],"mark":{"type":"text","font":"Liberation Serif","fontStyle":"italic","fontSize":60,"align":"center","baseline":"middle","angle":340,"fill":"#111111"},"encoding":{"x":{"field":"tx","type":"quantitative"},"y":{"field":"ty","type":"quantitative"},"text":{"field":"label"}}},
{"transform":[{"filter":"datum.set=='yb'"},{"calculate":"datum.sx-176","as":"tx"},{"calculate":"datum.sy+datum.c.ytdy-[0,44,68,88,134][datum.part]","as":"ty"}],"mark":{"type":"text","font":"Liberation Serif","fontStyle":"italic","fontSize":64,"align":"left","baseline":"alphabetic","angle":270,"fill":"#111111"},"encoding":{"x":{"field":"tx","type":"quantitative"},"y":{"field":"ty","type":"quantitative"},"text":{"field":"label"}}},
{"transform":[{"filter":"datum.set=='ys'"},{"calculate":"datum.sx-165","as":"tx"},{"calculate":"datum.sy+datum.c.ytdy-[0,44,68,88,134][datum.part]","as":"ty"}],"mark":{"type":"text","font":"Liberation Serif","fontStyle":"italic","fontSize":42,"align":"left","baseline":"alphabetic","angle":270,"fill":"#111111"},"encoding":{"x":{"field":"tx","type":"quantitative"},"y":{"field":"ty","type":"quantitative"},"text":{"field":"label"}}},
{"transform":[{"filter":"datum.set=='c1'"},{"calculate":"datum.sx+datum.c.capdx","as":"tx"}],"mark":{"type":"text","font":"Liberation Serif","fontSize":57,"align":"right","baseline":"middle","dx":-14,"dy":128,"fill":"#111111"},"encoding":{"x":{"field":"tx","type":"quantitative"},"text":{"field":"label"}}},
{"transform":[{"filter":"datum.set=='c2'"},{"calculate":"datum.sx+datum.c.capdx","as":"tx"}],"mark":{"type":"text","font":"Liberation Serif","fontStyle":"italic","fontSize":57,"align":"left","baseline":"middle","dy":128,"fill":"#111111"},"encoding":{"x":{"field":"tx","type":"quantitative"},"text":{"field":"label"}}},
{"transform":[{"filter":"datum.set=='c3'"},{"calculate":"datum.sx+datum.c.capdx","as":"tx"}],"mark":{"type":"text","font":"Liberation Serif","fontSize":57,"align":"left","baseline":"middle","dx":16,"dy":128,"fill":"#111111"},"encoding":{"x":{"field":"tx","type":"quantitative"},"text":{"field":"label"}}}
]}
